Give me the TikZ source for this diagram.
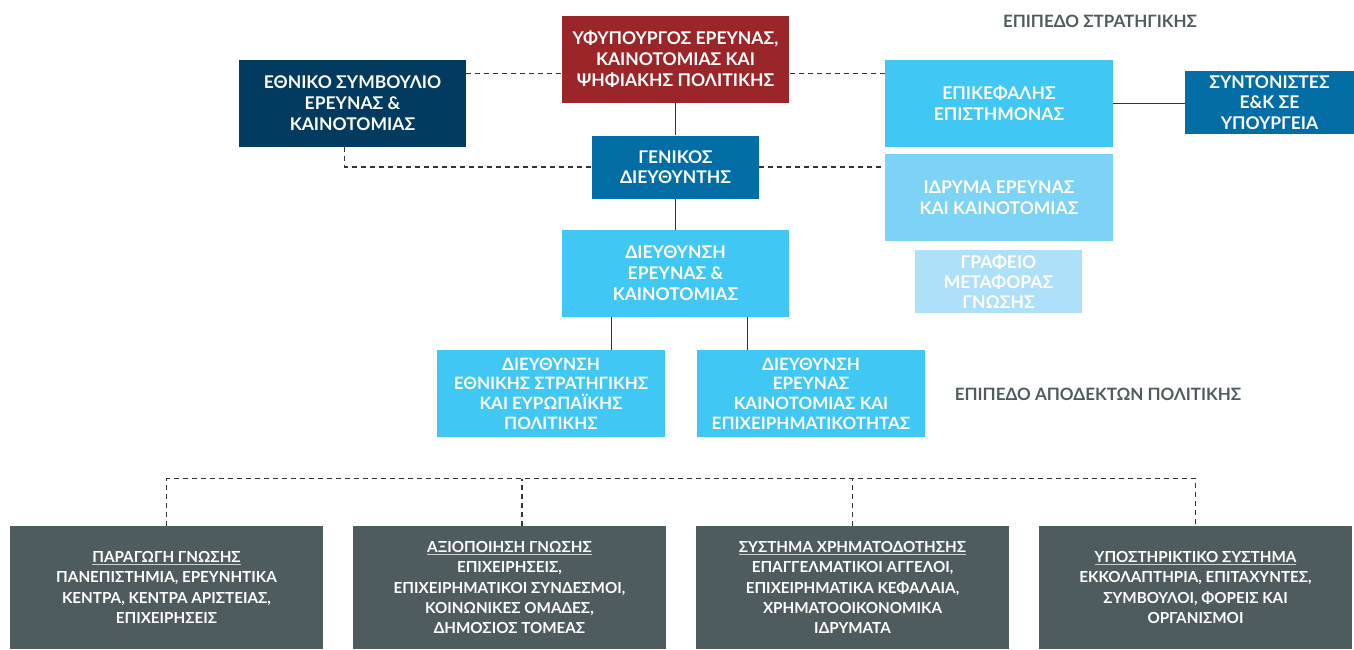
\documentclass[tikz,border=0pt]{standalone}
\usepackage{fontspec}
\setmainfont{Lato}
\usepackage{tikz}

\definecolor{minred}{HTML}{9B2629}
\definecolor{navy}{HTML}{023A60}
\definecolor{midblue}{HTML}{036EA6}
\definecolor{cyanbox}{HTML}{40C7F3}
\definecolor{lightcyan}{HTML}{7DD3F5}
\definecolor{palecyan}{HTML}{AEE1F9}
\definecolor{slate}{HTML}{4F5C5F}
\definecolor{linegray}{HTML}{333333}

\newcommand{\hdr}[1]{{\color{white!70!slate}\underline{\color{white}#1}}}

\tikzset{
	orgbox/.style={inner sep=0pt, align=center, text=white,
		font=\bfseries\fontsize{17.5}{21}\selectfont,
		minimum width=227pt, minimum height=87pt},
	quadbox/.style={orgbox, fill=cyanbox, font=\bfseries\fontsize{17}{19.7}\selectfont,
		minimum width=228pt},
	smallbox/.style={orgbox, font=\bfseries\fontsize{17.5}{20.3}\selectfont,
		minimum width=167pt, minimum height=63pt},
	actorbox/.style={inner sep=0pt, align=center, text=white, fill=slate,
		font=\bfseries\fontsize{15.2}{20.2}\selectfont,
		minimum width=313pt, minimum height=123pt},
	leveltitle/.style={inner sep=0pt, text=slate,
		font=\bfseries\fontsize{17}{20}\selectfont},
	solidline/.style={linegray, line width=1.3pt},
	dashline/.style={linegray, line width=1.2pt, dash pattern=on 5pt off 4pt}
}

\begin{document}
\begin{tikzpicture}[x=1pt, y=-1pt]
	\useasboundingbox (0,0) rectangle (1354,649);

	\node [leveltitle] (strat) at (1100, 21) {ΕΠΙΠΕΔΟ ΣΤΡΑΤΗΓΙΚΗΣ};
	\node [leveltitle] (recv) at (1098, 394) {ΕΠΙΠΕΔΟ ΑΠΟΔΕΚΤΩΝ ΠΟΛΙΤΙΚΗΣ};

	\node [orgbox, fill=minred] (minister) at (675.5, 59.5)
	{ΥΦΥΠΟΥΡΓΟΣ ΕΡΕΥΝΑΣ,\\ΚΑΙΝΟΤΟΜΙΑΣ ΚΑΙ\\ΨΗΦΙΑΚΗΣ ΠΟΛΙΤΙΚΗΣ};
	\node [orgbox, fill=navy] (council) at (352.5, 103.5)
	{ΕΘΝΙΚΟ ΣΥΜΒΟΥΛΙΟ\\ΕΡΕΥΝΑΣ \&\\ΚΑΙΝΟΤΟΜΙΑΣ};
	\node [smallbox, fill=midblue] (gensec) at (675.5, 167)
	{ΓΕΝΙΚΟΣ\\ΔΙΕΥΘΥΝΤΗΣ};
	\node [orgbox, fill=cyanbox] (dirri) at (675.5, 273.5)
	{ΔΙΕΥΘΥΝΣΗ\\ΕΡΕΥΝΑΣ \&\\ΚΑΙΝΟΤΟΜΙΑΣ};
	\node [quadbox] (dirnat) at (551, 393.5)
	{ΔΙΕΥΘΥΝΣΗ\\ΕΘΝΙΚΗΣ ΣΤΡΑΤΗΓΙΚΗΣ\\ΚΑΙ ΕΥΡΩΠΑΪΚΗΣ\\ΠΟΛΙΤΙΚΗΣ};
	\node [quadbox] (dirbiz) at (811, 393.5)
	{ΔΙΕΥΘΥΝΣΗ\\ΕΡΕΥΝΑΣ\\ΚΑΙΝΟΤΟΜΙΑΣ ΚΑΙ\\ΕΠΙΧΕΙΡΗΜΑΤΙΚΟΤΗΤΑΣ};

	\node [orgbox, fill=cyanbox, minimum width=228pt] (chief) at (999, 103.5)
	{ΕΠΙΚΕΦΑΛΗΣ\\ΕΠΙΣΤΗΜΟΝΑΣ};
	\node [smallbox, fill=midblue, minimum width=169pt] (coord) at (1269.5, 102.5)
	{ΣΥΝΤΟΝΙΣΤΕΣ\\Ε\&Κ ΣΕ\\ΥΠΟΥΡΓΕΙΑ};
	\node [orgbox, fill=lightcyan, minimum width=228pt] (found) at (999, 197.5)
	{ΙΔΡΥΜΑ ΕΡΕΥΝΑΣ\\ΚΑΙ ΚΑΙΝΟΤΟΜΙΑΣ};
	\node [smallbox, fill=palecyan] (tto) at (998.5, 281.5)
	{ΓΡΑΦΕΙΟ\\ΜΕΤΑΦΟΡΑΣ\\ΓΝΩΣΗΣ};

	\node [actorbox] (prod) at (166.5, 587.5)
	{\hdr{ΠΑΡΑΓΩΓΗ ΓΝΩΣΗΣ}\\ΠΑΝΕΠΙΣΤΗΜΙΑ, ΕΡΕΥΝΗΤΙΚΑ\\ΚΕΝΤΡΑ, ΚΕΝΤΡΑ ΑΡΙΣΤΕΙΑΣ,\\ΕΠΙΧΕΙΡΗΣΕΙΣ};
	\node [actorbox] (exploit) at (509.5, 587.5)
	{\hdr{ΑΞΙΟΠΟΙΗΣΗ ΓΝΩΣΗΣ}\\ΕΠΙΧΕΙΡΗΣΕΙΣ,\\ΕΠΙΧΕΙΡΗΜΑΤΙΚΟΙ ΣΥΝΔΕΣΜΟΙ,\\ΚΟΙΝΩΝΙΚΕΣ ΟΜΑΔΕΣ,\\ΔΗΜΟΣΙΟΣ ΤΟΜΕΑΣ};
	\node [actorbox] (funding) at (852.5, 587.5)
	{\hdr{ΣΥΣΤΗΜΑ ΧΡΗΜΑΤΟΔΟΤΗΣΗΣ}\\ΕΠΑΓΓΕΛΜΑΤΙΚΟΙ ΑΓΓΕΛΟΙ,\\ΕΠΙΧΕΙΡΗΜΑΤΙΚΑ ΚΕΦΑΛΑΙΑ,\\ΧΡΗΜΑΤΟΟΙΚΟΝΟΜΙΚΑ\\ΙΔΡΥΜΑΤΑ};
	\node [actorbox] (support) at (1195.5, 587.5)
	{\hdr{ΥΠΟΣΤΗΡΙΚΤΙΚΟ ΣΥΣΤΗΜΑ}\\ΕΚΚΟΛΑΠΤΗΡΙΑ, ΕΠΙΤΑΧΥΝΤΕΣ,\\ΣΥΜΒΟΥΛΟΙ, ΦΟΡΕΙΣ ΚΑΙ\\ΟΡΓΑΝΙΣΜΟΙ};

	\draw [dashline] ([yshift=-14pt]council.north east) -- ([yshift=-14pt]council.north east -| minister.west);
	\draw [dashline] ([yshift=-14pt]chief.north west) -- ([yshift=-14pt]chief.north west -| minister.east);
	\draw [dashline] ([xshift=-8pt]council.south) |- (gensec.west);
	\draw [dashline] (gensec.east) -- (gensec.east -| found.west);

	\draw [solidline] (minister.south) -- (gensec.north);
	\draw [solidline] (gensec.south) -- (dirri.north);
	\draw [solidline] (chief.east) -- (chief.east -| coord.west);
	\draw [solidline] ([xshift=-64pt]dirri.south) -- ([xshift=-64pt]dirri.south |- dirnat.north);
	\draw [solidline] ([xshift=72pt]dirri.south) -- ([xshift=72pt]dirri.south |- dirbiz.north);

	\draw [dashline] (prod.north) -- ++(0,-47) -| (support.north);
	\draw [dashline] ([xshift=12.5pt]exploit.north) -- ++(0,-47);
	\draw [dashline] (funding.north) -- ++(0,-47);
\end{tikzpicture}
\end{document}
